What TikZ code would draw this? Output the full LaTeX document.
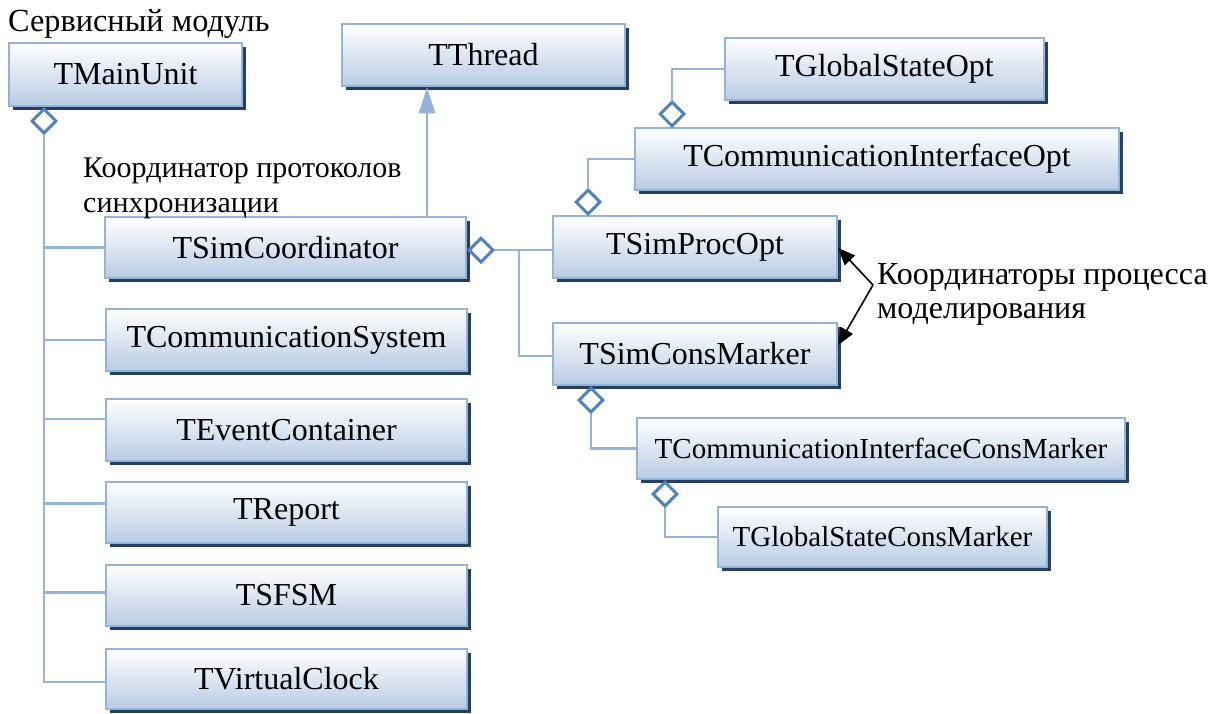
\documentclass[tikz,border=0pt]{standalone}
\usepackage{fontspec}
\setmainfont{Liberation Serif}
\usetikzlibrary{shapes.geometric,shadows,arrows.meta,calc}
\definecolor{boxline}{RGB}{149,179,215}
\definecolor{boxbot}{RGB}{184,204,228}
\definecolor{shadowc}{RGB}{36,63,96}
\definecolor{diamc}{RGB}{79,129,189}
\tikzset{
  cls/.style={rectangle, draw=boxline, line width=2.5pt, top color=white, bottom color=boxbot,
    inner sep=0pt, font=\fontsize{32}{36}\selectfont,
    drop shadow={shadow xshift=3.8pt, shadow yshift=-3.8pt, fill=shadowc, opacity=1}},
  smallcls/.style={cls, font=\fontsize{29}{33}\selectfont},
  conn/.style={draw=boxline, line width=2.5pt},
  agg/.style={diamond, draw=diamc, fill=white, line width=3pt, inner sep=0pt, minimum width=25pt, minimum height=25pt},
  lbl/.style={align=left, inner sep=0pt},
  blk/.style={draw=black, line width=1.6pt, -{Triangle[length=17pt,width=14pt]}},
}
\begin{document}
\begin{tikzpicture}[x=1pt,y=1pt]
\useasboundingbox (0,0) rectangle (1218,-713);
% class boxes
\node[cls, minimum width=233, minimum height=63] (main) at (125.5,-74.5) {TMainUnit};
\node[cls, minimum width=283, minimum height=62] (thread) at (483.5,-55) {TThread};
\node[cls, minimum width=319, minimum height=62] (gso) at (884.5,-69) {TGlobalStateOpt};
\node[cls, minimum width=484, minimum height=62] (cio) at (877,-159) {TCommunicationInterfaceOpt};
\node[cls, minimum width=284, minimum height=62] (spo) at (695,-247) {TSimProcOpt};
\node[cls, minimum width=284, minimum height=62] (scm) at (695,-354) {TSimConsMarker};
\node[smallcls, minimum width=488, minimum height=61] (cicm) at (881,-448.5) {TCommunicationInterfaceConsMarker};
\node[smallcls, minimum width=329, minimum height=60] (gscm) at (882.5,-537) {TGlobalStateConsMarker};
\node[cls, minimum width=361, minimum height=61] (sc) at (285.5,-247.5) {TSimCoordinator};
\node[cls, minimum width=361, minimum height=62] (cs) at (286.5,-340) {TCommunicationSystem};
\node[cls, minimum width=361, minimum height=62] (ec) at (286.5,-430) {TEventContainer};
\node[cls, minimum width=361, minimum height=61] (rep) at (286.5,-512.5) {TReport};
\node[cls, minimum width=361, minimum height=61] (fsm) at (286.5,-595.5) {TSFSM};
\node[cls, minimum width=361, minimum height=60] (vc) at (286.5,-679) {TVirtualClock};
% labels
\node[anchor=base west, inner sep=0pt, font=\fontsize{32.3}{36}\selectfont] (t1) at (8,-31) {Сервисный модуль};
\node[lbl, anchor=base west, font=\fontsize{30}{35}\selectfont] (t2) at (83,-212) {Координатор протоколов\\синхронизации};
\node[lbl, anchor=base west, font=\fontsize{32}{34}\selectfont] (t3) at (877,-318) {Координаторы процесса\\моделирования};
% aggregation diamonds
\node[agg, anchor=north] (d1) at (44,-107) {};
\node[agg, anchor=west] (d2) at (467,-250) {};
\node[agg, anchor=south] (d3) at (588,-216) {};
\node[agg, anchor=south] (d4) at (672,-128) {};
\node[agg, anchor=north] (d5) at (591,-386) {};
\node[agg, anchor=north] (d6) at (665,-480) {};
\coordinate (j) at (519,-250);
\coordinate (m) at (873,-285);
% left trunk
\draw[conn] (d1.south) |- ([yshift=-3pt]vc.west);
\draw[conn] (d1.south) |- (sc.west);
\draw[conn] (d1.south) |- (cs.west);
\draw[conn] (d1.south) |- ([yshift=11pt]ec.west);
\draw[conn] (d1.south) |- ([yshift=9pt]rep.west);
\draw[conn] (d1.south) |- ([yshift=3pt]fsm.west);
% coordinator links
\draw[conn] (d2.east) -- (d2.east -| spo.west);
\draw[conn] (j) |- ([yshift=-2pt]scm.west);
\draw[conn] (d3.north) |- (cio.west);
\draw[conn] (d4.north) |- (gso.west);
\draw[conn] (d5.south) |- (cicm.west);
\draw[conn] (d6.south) |- (gscm.west);
% inheritance
\draw[conn, -{Triangle[length=26pt,width=16pt,fill=boxline]}] (sc.north -| 427,0) -- (thread.south -| 427,0);
% black arrows
\draw[blk] (m) -- ([yshift=-1pt]spo.east);
\draw[blk] (m) -- ([yshift=9pt]scm.east);
\end{tikzpicture}
\end{document}
